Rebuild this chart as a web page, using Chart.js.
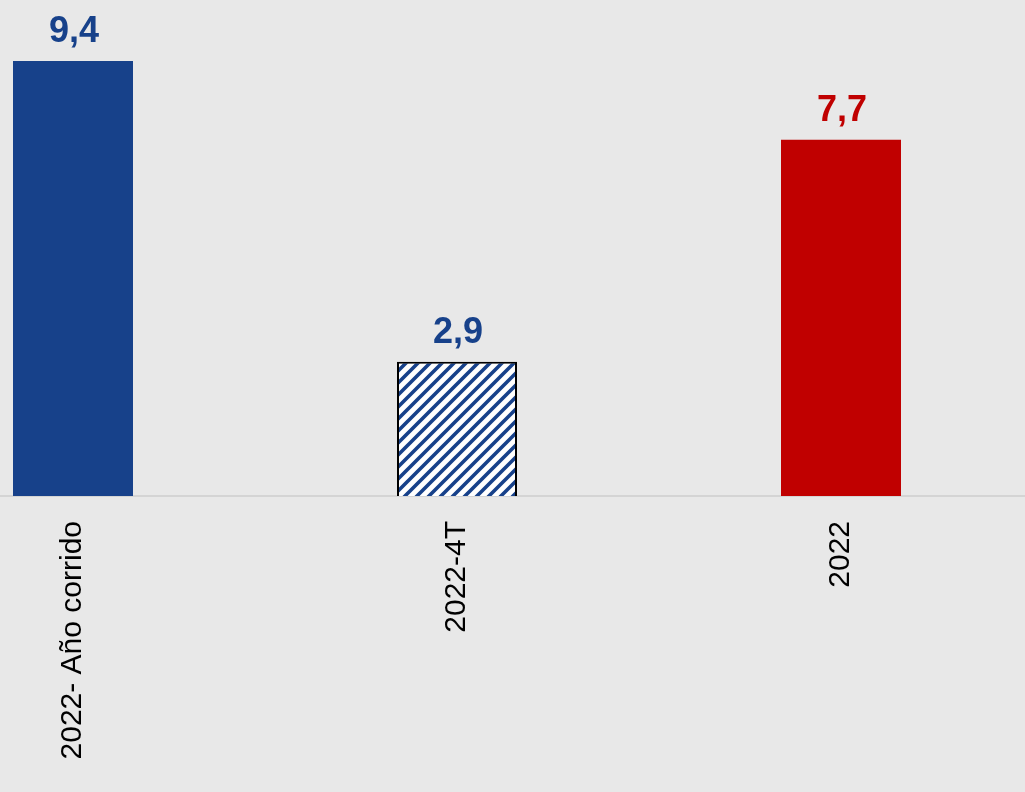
<!DOCTYPE html>
<html>
<head>
<meta charset="utf-8">
<script src="https://cdn.jsdelivr.net/npm/chart.js@4/dist/chart.umd.min.js"></script>
<style>
  html, body { margin: 0; padding: 0; width: 1025px; height: 792px; overflow: hidden; background: #e8e8e8; }
  #wrap { position: absolute; left: -119px; top: 0; width: 1152px; height: 792px; }
</style>
</head>
<body>
<div id="wrap"><canvas id="barChart"></canvas></div>
<script>
const categories = ['2022- Año corrido', '2022-4T', '2022'];
const values = [9.4, 2.9, 7.7];
const valueLabels = ['9,4', '2,9', '7,7'];
const labelColors = ['#17418a', '#17418a', '#c00000'];

function makeHatch() {
    const c = document.createElement('canvas');
    c.width = 12; c.height = 12;
    const g = c.getContext('2d');
    g.fillStyle = '#ffffff';
    g.fillRect(0, 0, 12, 12);
    g.strokeStyle = '#17418a';
    g.lineWidth = 3.6;
    g.beginPath();
    g.moveTo(-3, 15); g.lineTo(15, -3);
    g.moveTo(-9, 9); g.lineTo(9, -9);
    g.moveTo(3, 21); g.lineTo(21, 3);
    g.stroke();
    return g.createPattern(c, 'repeat');
}

const valueLabelPlugin = {
    id: 'valueLabels',
    afterDatasetsDraw(chart) {
        const ctx = chart.ctx;
        const meta = chart.getDatasetMeta(0);
        ctx.save();
        ctx.font = 'bold 36px "Liberation Sans", Arial, sans-serif';
        ctx.textAlign = 'center';
        ctx.textBaseline = 'alphabetic';
        meta.data.forEach((bar, i) => {
            ctx.fillStyle = labelColors[i];
            ctx.fillText(valueLabels[i], bar.x + 1, bar.y - 19);
        });
        ctx.restore();
    }
};

function drawChart() {
    const hatch = makeHatch();
    const ctx = document.getElementById('barChart').getContext('2d');
    new Chart(ctx, {
        type: 'bar',
        data: {
            labels: categories,
            datasets: [{
                data: values,
                backgroundColor: ['#17418a', hatch, '#c00000'],
                borderColor: ['#17418a', '#000000', '#c00000'],
                borderWidth: [0, 2, 0],
                barPercentage: 0.3125,
                categoryPercentage: 1.0
            }]
        },
        options: {
            responsive: true,
            maintainAspectRatio: false,
            animation: false,
            layout: { padding: 0 },
            plugins: {
                legend: { display: false },
                tooltip: { enabled: false }
            },
            scales: {
                x: {
                    grid: { display: false },
                    border: { display: true, color: '#d4d4d4', width: 2 },
                    ticks: {
                        autoSkip: false,
                        minRotation: 90,
                        maxRotation: 90,
                        padding: 17,
                        color: '#000000',
                        font: { family: '"Liberation Sans", Arial, sans-serif', size: 30 }
                    },
                    afterFit(scale) { scale.height = 296; }
                },
                y: {
                    display: false,
                    min: 0,
                    max: 10.72
                }
            }
        },
        plugins: [valueLabelPlugin]
    });
}

document.addEventListener('DOMContentLoaded', () => drawChart());
</script>
</body>
</html>
